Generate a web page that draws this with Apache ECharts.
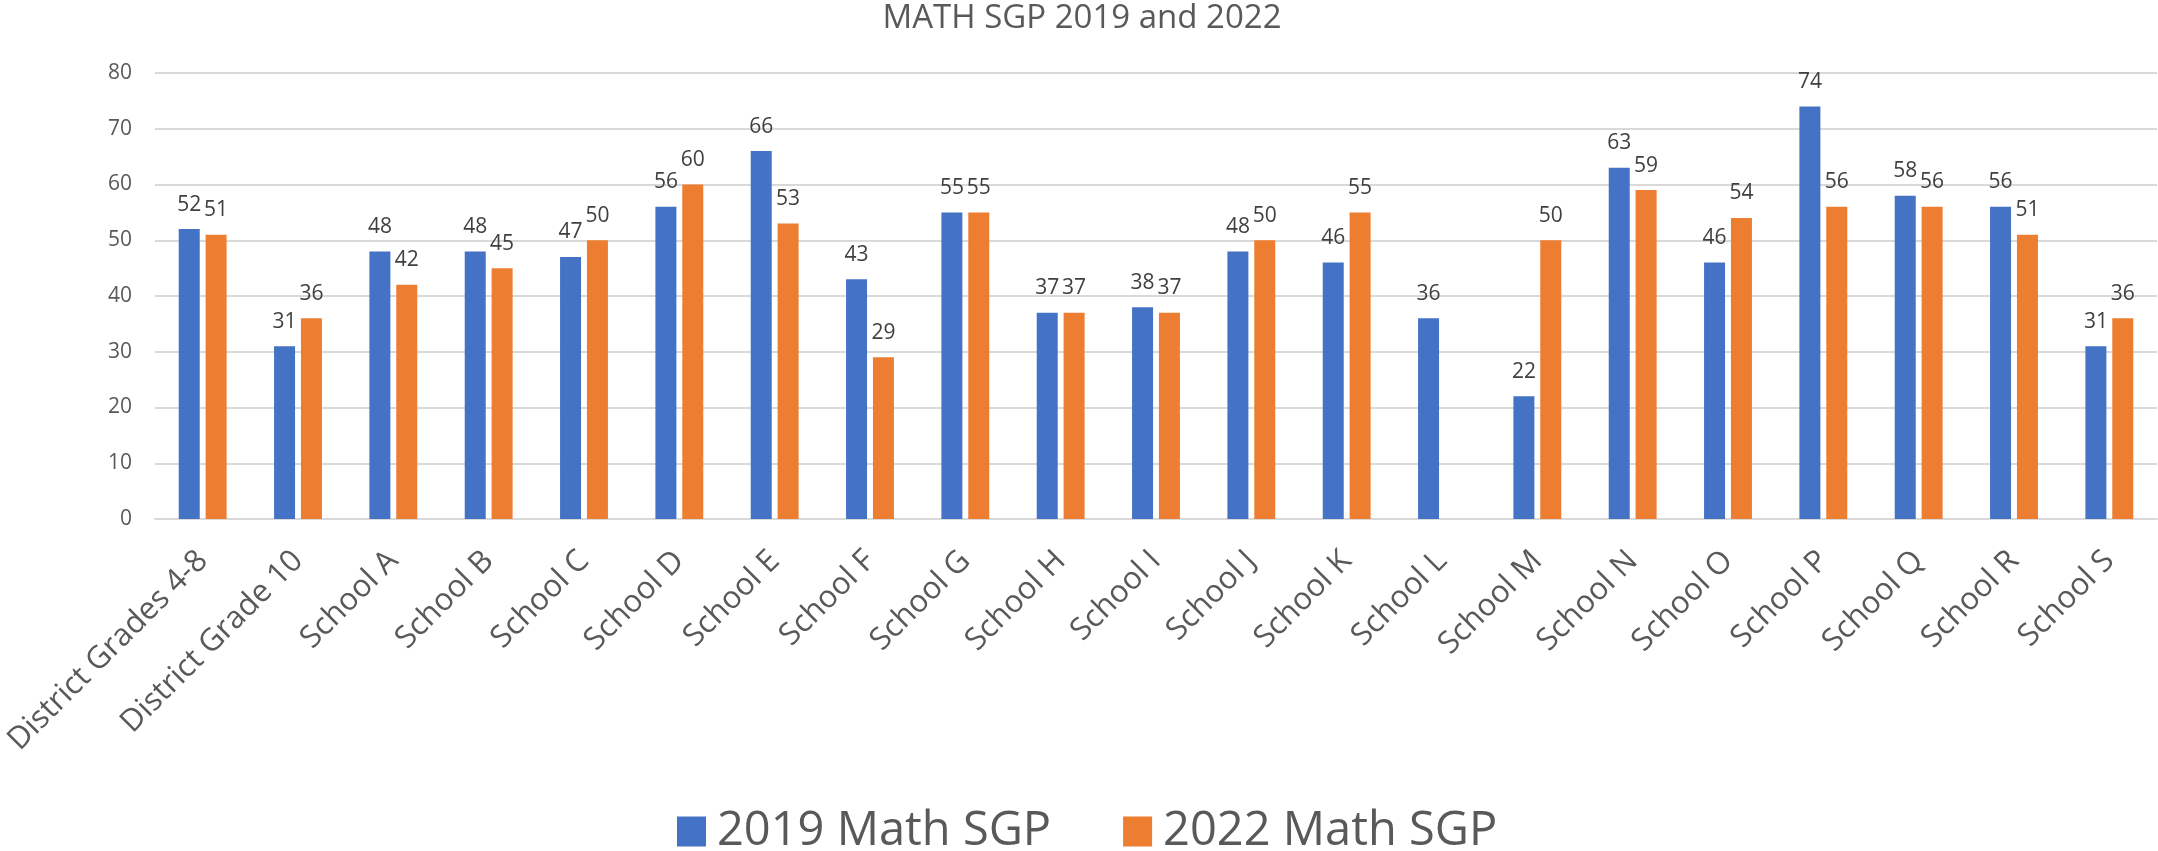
<!DOCTYPE html>
<html>
<head>
<meta charset="utf-8">
<title>MATH SGP 2019 and 2022</title>
<script src="https://cdn.jsdelivr.net/npm/echarts@6/dist/echarts.min.js"></script>
<style>
  html, body { margin: 0; padding: 0; background: #fff; }
  #chart { width: 2158px; height: 851px; }
</style>
</head>
<body>
<div id="chart"></div>
<script>
// categories and values
const schools = [
  "District Grades 4-8", "District Grade 10", "School A", "School B", "School C",
  "School D", "School E", "School F", "School G", "School H", "School I",
  "School J", "School K", "School L", "School M", "School N", "School O",
  "School P", "School Q", "School R", "School S"
];
const sgp2019 = [52, 31, 48, 48, 47, 56, 66, 43, 55, 37, 38, 48, 46, 36, 22, 63, 46, 74, 58, 56, 31];
const sgp2022 = [51, 36, 42, 45, 50, 60, 53, 29, 55, 37, 37, 50, 55, null, 50, 59, 54, 56, 56, 51, 36];
const yTicks = { min: 0, max: 80, step: 10 };

const font = "'Open Sans', 'Noto Sans', sans-serif";

const chart = echarts.init(document.getElementById("chart"));

const barLabel = {
  show: true,
  position: "top",
  distance: 14,
  color: "#404040",
  fontSize: 21,
  fontFamily: font,
};

const option = {
  animation: false,
  title: {
    text: "MATH SGP 2019 and 2022",
    left: 1082,
    textAlign: "center",
    top: 2,
    padding: 0,
    textStyle: { color: "#595959", fontSize: 33, fontWeight: "normal", fontFamily: font },
  },
  legend: {
    data: ["2019 Math SGP", "2022 Math SGP"],
    left: 677,
    top: 808,
    padding: 0,
    itemWidth: 29,
    itemHeight: 30,
    itemGap: 72,
    icon: "rect",
    textStyle: { color: "#595959", fontSize: 47, fontFamily: font, padding: [0, 0, 0, 6] },
  },
  grid: { left: 155, right: 1, top: 73, bottom: 332 },
  xAxis: {
    type: "category",
    data: schools,
    axisLine: { show: true, lineStyle: { color: "#d9d9d9", width: 2 } },
    axisTick: { show: false },
    axisLabel: {
      interval: 0,
      rotate: 45,
      margin: 37,
      color: "#595959",
      fontSize: 31,
      fontFamily: font,
    },
  },
  yAxis: {
    type: "value",
    min: yTicks.min,
    max: yTicks.max,
    interval: yTicks.step,
    axisLine: { show: false },
    axisTick: { show: false },
    axisLabel: { margin: 23, color: "#595959", fontSize: 21, fontFamily: font },
    splitLine: { lineStyle: { color: "#d9d9d9", width: 2 } },
  },
  series: [
    {
      name: "2019 Math SGP",
      type: "bar",
      data: sgp2019,
      barWidth: 21,
      barGap: "28%",
      itemStyle: { color: "#4472c4" },
      label: barLabel,
    },
    {
      name: "2022 Math SGP",
      type: "bar",
      data: sgp2022,
      barWidth: 21,
      barGap: "28%",
      itemStyle: { color: "#ed7d31" },
      label: barLabel,
    },
  ],
};

chart.setOption(option);
</script>
</body>
</html>
